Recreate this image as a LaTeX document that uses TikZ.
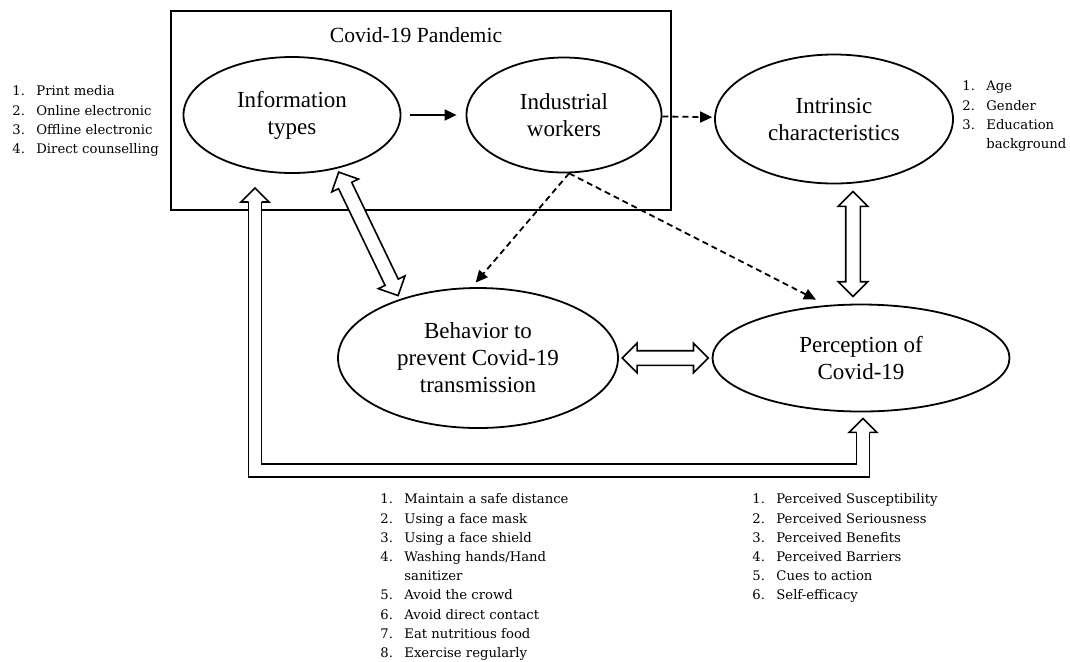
\documentclass[tikz,border=0pt]{standalone}
\usepackage{fontspec}
\setmainfont{Liberation Serif}
\newfontfamily\listfont{DejaVu Serif}
\usetikzlibrary{positioning,shapes.geometric,shapes.arrows,arrows.meta}

% open arrow head pointing up, tip at #1
\newcommand{\uphead}[1]{%
  \filldraw[fill=white,line width=.8pt] ([xshift=-3.25pt,yshift=-7pt]#1) -- ++(-3.75pt,0) -- (#1) -- ++(7pt,-7pt) -- ++(-3.75pt,0);}

\begin{document}
\begin{tikzpicture}[x=0.5pt,y=-0.5pt,on grid,
    >={Triangle[length=6pt,width=5.5pt]},
    factor/.style={ellipse,draw,line width=.9pt,inner sep=0pt,align=center,font=\fontsize{11.5pt}{13.5pt}\selectfont},
    itemlist/.style={anchor=north west,inner sep=0pt,text=black,font=\listfont\fontsize{6.6pt}{9.6pt}\selectfont},
    solidlink/.style={->,line width=.9pt},
    dashedlink/.style={->,line width=.9pt,dash pattern=on 3pt off 2pt},
    blockarrow/.style={double arrow,draw,fill=white,line width=.8pt,inner xsep=0pt,inner ysep=3.25pt,outer sep=0pt,
      minimum width=0pt,double arrow head extend=3.75pt,double arrow tip angle=90,sloped,midway}]
    \useasboundingbox (0,0) rectangle (1070,661);

    \node[draw,line width=1pt,minimum width=250pt,minimum height=99.5pt,inner sep=0pt,outer sep=0pt] (pandemic) at (421,110.5) {};
    \node[font=\fontsize{10.8pt}{13pt}\selectfont] (title) at (416,35) {Covid-19 Pandemic};

    \node[factor,minimum width=108.5pt,minimum height=58pt] (info) at (292,115) {Information\\types};
    \node[factor,minimum width=97.5pt,minimum height=57.5pt] (workers) [right=136pt of info] {Industrial\\workers};
    \node[factor,minimum width=119pt,minimum height=64.5pt] (intrinsic) [below right=2pt and 135pt of workers] {Intrinsic\\characteristics};
    \node[factor,minimum width=140pt,minimum height=70pt] (behavior) at (478,358) {Behavior to\\prevent Covid-19\\transmission};
    \node[factor,minimum width=148.5pt,minimum height=53.5pt] (perception) [right=191.5pt of behavior] {Perception of\\Covid-19};

    \path
    (info) edge[solidlink,shorten <=4.5pt,shorten >=4.5pt] (workers)
    (workers) edge[dashedlink,shorten >=1pt] (intrinsic)
    (workers.-85) edge[dashedlink,shorten >=3pt] (behavior.95)
    (workers.-85) edge[dashedlink,shorten >=6pt] (perception.123)
    ; %end path

    \path (info.-50) -- (behavior.143) node[blockarrow,minimum height=68.5pt] {};
    \path ([xshift=9.5pt]intrinsic.south) -- ([xshift=-4pt]perception.north) node[blockarrow,minimum height=52.5pt] {};
    \path (behavior.east) -- (perception.west) node[blockarrow,minimum height=43pt] {};

    % feedback route below
    \coordinate (fbtop) at ([xshift=42pt,yshift=11pt]pandemic.south west);
    \coordinate (fbend) at ([xshift=1pt,yshift=-3pt]perception.south);
    \draw[line width=.8pt,double=white,double distance=5.7pt] ([yshift=-7pt]fbtop) |- ([yshift=-26pt]fbend) -- ([yshift=-7pt]fbend);
    \uphead{fbtop}
    \uphead{fbend}

    \node[itemlist] (medialist) at (12,82) {\begin{tabular}{@{}p{12pt}@{}l@{}}
      1. & Print media\\ 2. & Online electronic\\ 3. & Offline electronic\\ 4. & Direct counselling
    \end{tabular}};
    \node[itemlist] (traitlist) at (962,77) {\begin{tabular}{@{}p{12pt}@{}l@{}}
      1. & Age\\ 2. & Gender\\ 3. & Education\\ & background
    \end{tabular}};
    \node[itemlist] (behaviorlist) at (380,490) {\begin{tabular}{@{}p{12pt}@{}l@{}}
      1. & Maintain a safe distance\\ 2. & Using a face mask\\ 3. & Using a face shield\\
      4. & Washing hands/Hand\\ & sanitizer\\ 5. & Avoid the crowd\\ 6. & Avoid direct contact\\
      7. & Eat nutritious food\\ 8. & Exercise regularly
    \end{tabular}};
    \node[itemlist] (perceptionlist) at (752,490) {\begin{tabular}{@{}p{12pt}@{}l@{}}
      1. & Perceived Susceptibility\\ 2. & Perceived Seriousness\\ 3. & Perceived Benefits\\
      4. & Perceived Barriers\\ 5. & Cues to action\\ 6. & Self-efficacy
    \end{tabular}};
\end{tikzpicture}
\end{document}
